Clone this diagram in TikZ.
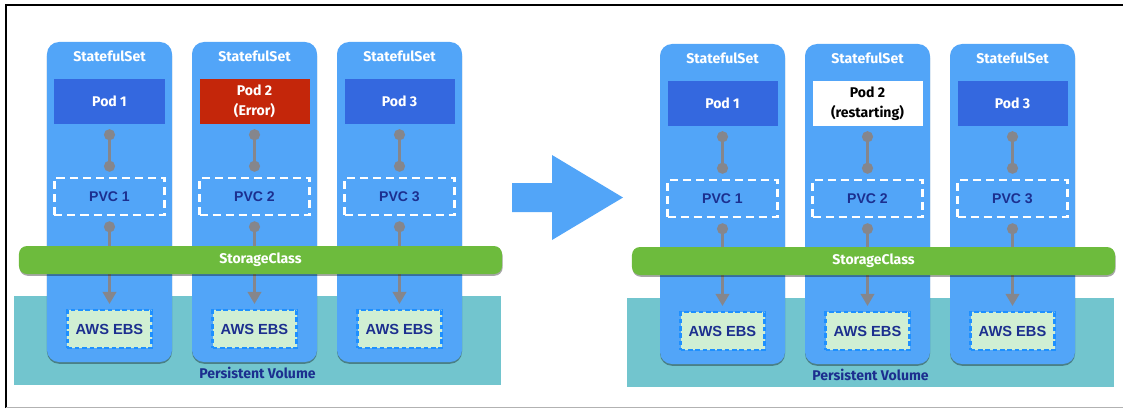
\documentclass[tikz,border=0pt]{standalone}
\usepackage{fontspec}
\setmainfont{Fira Sans}
\newfontfamily\arialfont{Liberation Sans}
\usetikzlibrary{arrows.meta, shadows}

\definecolor{setblue}{HTML}{52A5F8}
\definecolor{podblue}{HTML}{3468DF}
\definecolor{errred}{HTML}{C4260A}
\definecolor{scgreen}{HTML}{6DBB3D}
\definecolor{pvteal}{HTML}{72C5CE}
\definecolor{ebsfill}{HTML}{D0EFD3}
\definecolor{ebsdash}{HTML}{1E90FF}
\definecolor{linkgray}{HTML}{85868C}
\definecolor{navy}{HTML}{1C2F8F}

\begin{document}
\begin{tikzpicture}[x=0.03cm, y=-0.03cm,
    column/.style={rectangle, fill=setblue, rounded corners=0.36cm, minimum width=3.75cm, minimum height=9.6cm,
        drop shadow={shadow xshift=0pt, shadow yshift=-1.5pt, opacity=0.35, fill=black}},
    title/.style={text=white, font=\fontsize{12}{14}\selectfont\bfseries},
    pod/.style={rectangle, minimum width=3.3cm, minimum height=1.35cm, align=center, font=\fontsize{12}{17}\selectfont\bfseries},
    pvc/.style={rectangle, draw=white, line width=2.2pt, dash pattern=on 0.24cm off 0.15cm, minimum width=3.3cm, minimum height=1.11cm,
        text=navy, font=\arialfont\fontsize{12}{14}\selectfont\bfseries},
    ebs/.style={rectangle, fill=ebsfill, draw=ebsdash, line width=1.8pt, dash pattern=on 0.14cm off 0.08cm, minimum width=2.52cm, minimum height=1.14cm,
        text=navy, font=\arialfont\fontsize{12.5}{14}\selectfont\bfseries},
    band/.style={rectangle, fill=pvteal, minimum width=14.61cm, minimum height=2.67cm},
    bar/.style={rectangle, fill=scgreen, rounded corners=0.24cm, minimum width=14.49cm, minimum height=0.84cm,
        text=white, font=\fontsize{12}{14}\selectfont\bfseries,
        drop shadow={shadow xshift=0.5pt, shadow yshift=-1.5pt, opacity=0.35, fill=black}},
    pvtext/.style={text=navy, font=\fontsize{12}{14}\selectfont\bfseries},
    link/.style={draw=linkgray, line width=2.2pt, shorten <=0.15cm, shorten >=0.15cm}
]
\useasboundingbox (0,0) rectangle (1123,408);

% frame
\draw[black, line width=2pt] (6,408) -- (6,5) -- (1123,5);
\draw[black!30, line width=0.8pt] (6,407) -- (1123,407);

% persistent volume bands
\node[band] (pv_l) at (257.5,340.5) {};
\node[band] (pv_r) at (870.5,342.5) {};

% statefulset columns
\foreach \n/\k/\cx/\dy/\pod/\podfill/\podtext in {
    l1/1/109.5/0/{Pod 1}/podblue/white,
    l2/2/254.5/0/{Pod 2\\(Error)}/errred/white,
    l3/3/399.5/0/{Pod 3}/podblue/white,
    r1/1/722.5/2/{Pod 1}/podblue/white,
    r2/2/867.5/2/{Pod 2\\(restarting)}/white/black,
    r3/3/1012.5/2/{Pod 3}/podblue/white} {
  \node[column] (set_\n) at (\cx,202+\dy) {};
  \node[title] (title_\n) at (\cx,56+\dy) {StatefulSet};
  \node[pod, fill=\podfill, text=\podtext] (pod_\n) at (\cx,101.5+\dy) {\pod};
  \node[pvc] (pvc_\n) at (\cx,196.5+\dy) {PVC \k};
  \node[ebs] (ebs_\n) at (\cx,329+\dy) {AWS EBS};
  \draw[link, {Circle[length=0.33cm]}-{Circle[length=0.33cm]}] (pod_\n) -- (pvc_\n);
  \draw[link, {Circle[length=0.33cm]}-{Triangle[length=0.36cm, width=0.4cm]}] (pvc_\n) -- (ebs_\n);
}

% storage class bars
\node[bar] (sc_l) at (260.5,260) {StorageClass};
\node[bar] (sc_r) at (873.5,261) {StorageClass};

\node[pvtext] (pvlabel_l) at (257.5,373) {Persistent Volume};
\node[pvtext] (pvlabel_r) at (870.5,375) {Persistent Volume};

% big arrow
\fill[setblue] (512,183) -- (552,183) -- (552,155) -- (623,197.5) -- (552,240) -- (552,212) -- (512,212) -- cycle;

\end{tikzpicture}
\end{document}
